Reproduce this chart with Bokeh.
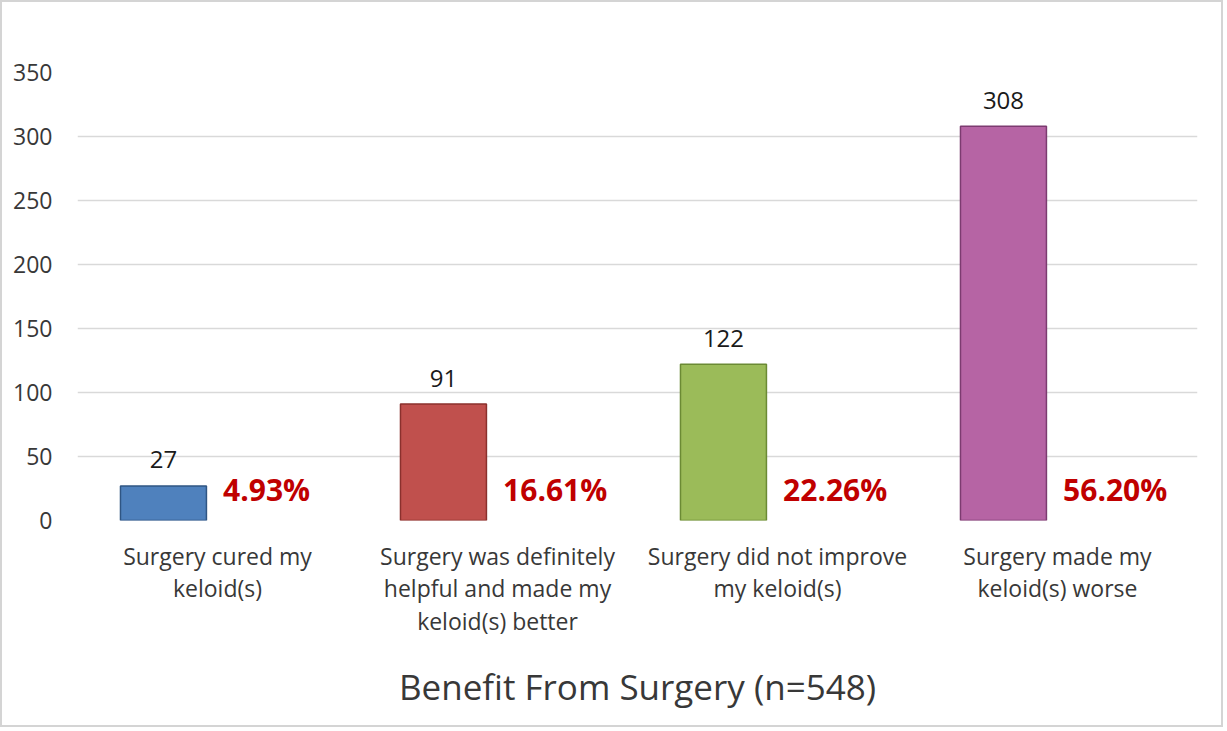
from bokeh.plotting import figure
from bokeh.models import FactorRange, Range1d, FixedTicker, ColumnDataSource
from bokeh.transform import dodge
from bokeh.core.properties import value
from bokeh.embed import file_html
from bokeh.resources import INLINE

categories = ["Surgery cured my\nkeloid(s)",
              "Surgery was definitely\nhelpful and made my\nkeloid(s) better",
              "Surgery did not improve\nmy keloid(s)",
              "Surgery made my\nkeloid(s) worse"]
counts = [27, 91, 122, 308]
percents = ["4.93%", "16.61%", "22.26%", "56.20%"]
colors = ["#4f81bd", "#c0504d", "#9bbb59", "#b664a4"]
edge_colors = ["#2f5583", "#8a302d", "#6b8a34", "#7c3b70"]
y_ticks = [0, 50, 100, 150, 200, 250, 300, 350]
title_text = "Benefit From Surgery (n=548)"

FONT = "Open Sans"
pct_level = [24.5] * len(counts)

src = ColumnDataSource(dict(cat=categories, count=counts, lab=[str(c) for c in counts],
                            pct=percents, color=colors, edge=edge_colors, py=pct_level))

p = figure(width=1223, height=727, x_range=FactorRange(*categories, range_padding=0),
           y_range=Range1d(0, 350), output_backend="svg", toolbar_location=None,
           min_border_left=75, min_border_right=28, min_border_top=70, min_border_bottom=209)
p.styles = {"border": "2px solid #d4d4d4"}
p.outline_line_color = None

p.vbar(x=dodge("cat", -0.193, range=p.x_range), top="count", width=0.307, source=src,
       fill_color="color", line_color="edge", line_width=1.5)

p.text(x=dodge("cat", -0.193, range=p.x_range), y="count", text="lab", source=src,
       text_align="center", text_baseline="alphabetic", y_offset=-26,
       text_font=value(FONT), text_font_size="24px", text_color="#1a1a1a")

p.text(x=dodge("cat", 0.02, range=p.x_range), y="py", text="pct", source=src,
       text_align="left", text_baseline="middle",
       text_font=value(FONT), text_font_size="30px", text_font_style="bold",
       text_color="#c00000")

p.xgrid.grid_line_color = None
p.ygrid.grid_line_color = "#d9d9d9"
p.ygrid.grid_line_width = 1.5
p.yaxis.ticker = FixedTicker(ticks=y_ticks)

for ax in (p.xaxis[0], p.yaxis[0]):
    ax.axis_line_color = None
    ax.major_tick_line_color = None
    ax.minor_tick_line_color = None
    ax.major_label_text_font = FONT
    ax.major_label_text_color = "#383838"
    ax.major_label_text_font_size = "23px"

p.xaxis.major_label_text_line_height = 1.02
p.yaxis.major_label_standoff = 19
p.xaxis.major_label_standoff = 13
p.xaxis.axis_label = title_text
p.xaxis.axis_label_text_font = FONT
p.xaxis.axis_label_text_font_size = "35px"
p.xaxis.axis_label_text_font_style = "normal"
p.xaxis.axis_label_text_color = "#383838"
p.xaxis.axis_label_standoff = 23

open("out.html", "w").write(file_html(p, INLINE))
